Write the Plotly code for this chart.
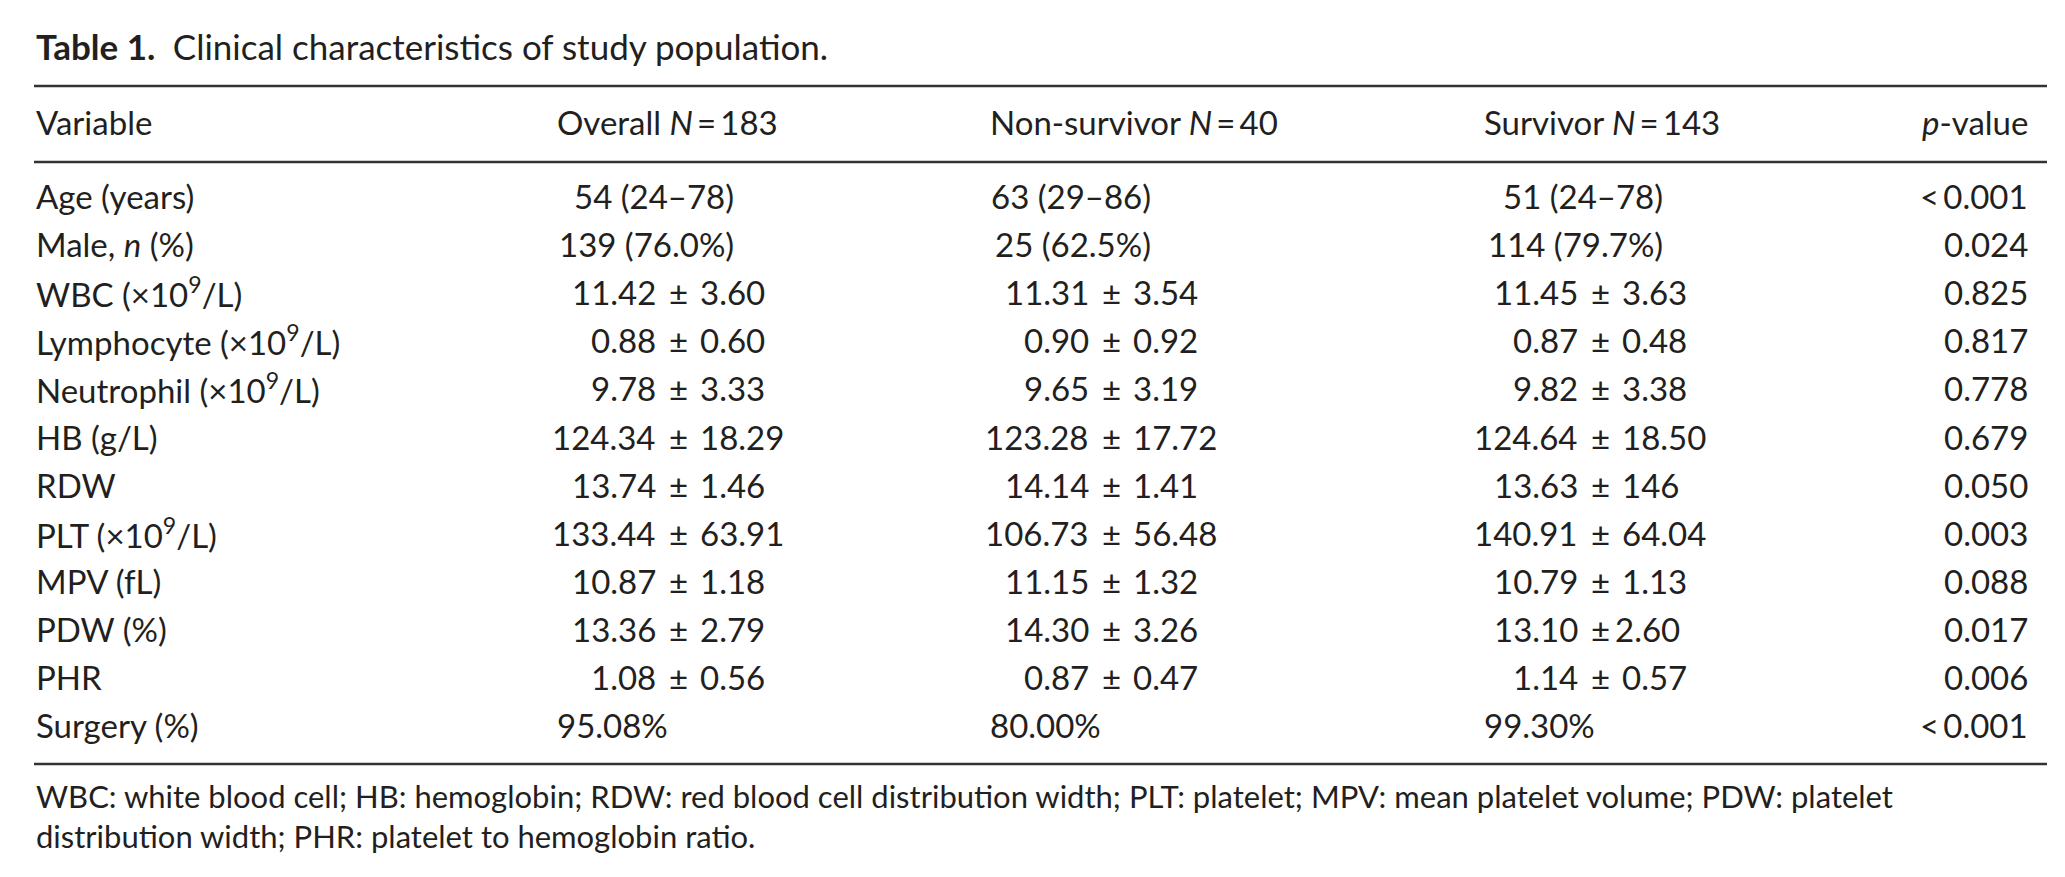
import plotly.graph_objects as go

# Table content
title_bold = "Table 1."
title_text = "Clinical characteristics of study population."

headers = ["Variable", "Overall <i>N</i>\u2009=\u2009183", "Non-survivor <i>N</i>\u2009=\u200940",
           "Survivor <i>N</i>\u2009=\u2009143", "<i>p</i>-value"]

variables = ["Age (years)", "Male, <i>n</i> (%)", "WBC (\u00d710<sup>9</sup>/L)",
             "Lymphocyte (\u00d710<sup>9</sup>/L)", "Neutrophil (\u00d710<sup>9</sup>/L)", "HB (g/L)",
             "RDW", "PLT (\u00d710<sup>9</sup>/L)", "MPV (fL)", "PDW (%)", "PHR", "Surgery (%)"]

overall = ["54 (24–78)", "139 (76.0%)", "11.42 ± 3.60", "0.88 ± 0.60", "9.78 ± 3.33",
           "124.34 ± 18.29", "13.74 ± 1.46", "133.44 ± 63.91", "10.87 ± 1.18", "13.36 ± 2.79",
           "1.08 ± 0.56", "95.08%"]
non_survivor = ["63 (29–86)", "25 (62.5%)", "11.31 ± 3.54", "0.90 ± 0.92", "9.65 ± 3.19",
                "123.28 ± 17.72", "14.14 ± 1.41", "106.73 ± 56.48", "11.15 ± 1.32", "14.30 ± 3.26",
                "0.87 ± 0.47", "80.00%"]
survivor = ["51 (24–78)", "114 (79.7%)", "11.45 ± 3.63", "0.87 ± 0.48", "9.82 ± 3.38",
            "124.64 ± 18.50", "13.63 ± 146", "140.91 ± 64.04", "10.79 ± 1.13", "13.10 ±2.60",
            "1.14 ± 0.57", "99.30%"]
p_values = ["<0.001", "0.024", "0.825", "0.817", "0.778", "0.679", "0.050", "0.003", "0.088",
            "0.017", "0.006", "<0.001"]

footnote = ["WBC: white blood cell; HB: hemoglobin; RDW: red blood cell distribution width; "
            "PLT: platelet; MPV: mean platelet volume; PDW: platelet",
            "distribution width; PHR: platelet to hemoglobin ratio."]

# layout (pixel-like coords)
W, H = 2065, 877
FONT = "Lato"
INK = "#231f20"
SIZE = 33
LEFT, RIGHT = 26, 2039
ROW0, ROW_STEP = 188, 48.1
HEADER_Y = 114
# per column: left edge, plus/minus centre, right edge
cols = [
    (overall, 547, 670, 728),
    (non_survivor, 980, 1103, 1145),
    (survivor, 1474, 1592, 1657),
]
P_RIGHT = 2022

fig = go.Figure()
ann = []


def txt(x, y, s, anchor="left", size=SIZE):
    ann.append(dict(x=x, y=y, xref="x", yref="y", text=s, showarrow=False,
                    xanchor=anchor, yanchor="middle",
                    font=dict(family=FONT, size=size, color=INK)))


# title
txt(LEFT, 38, f"<b>{title_bold}</b>\u2002{title_text}", size=35)

# header
txt(LEFT, HEADER_Y, headers[0])
for (vals, left, pm, right), h in zip(cols, headers[1:4]):
    txt(left, HEADER_Y, h)
txt(P_RIGHT, HEADER_Y, headers[4], "right")

# body
for i, var in enumerate(variables):
    y = ROW0 + i * ROW_STEP
    txt(LEFT, y, var)
    for vals, left, pm, right in cols:
        s = vals[i]
        if "±" in s:
            a, b = s.split("±")
            txt(pm - 20, y, a.strip(), "right")
            txt(pm, y, "±", "center")
            txt(pm + (20 if b.startswith(" ") else 13), y, b.strip(), "left")
        elif "(" in s:
            txt(right, y, s, "right")
        else:
            txt(left, y, s, "left")
    txt(P_RIGHT, y, p_values[i].replace("<", "&lt;\u2009"), "right")

# footnote
for j, line in enumerate(footnote):
    txt(LEFT, 788 + j * 40, line, size=31)

# rules
for yy in [78, 154, 756]:
    fig.add_shape(type="line", x0=LEFT, x1=RIGHT, y0=yy, y1=yy, xref="x", yref="y",
                  line=dict(color="#333333", width=2.5))

fig.update_layout(
    width=W, height=H, autosize=False,
    margin=dict(l=0, r=0, t=0, b=0),
    paper_bgcolor="white", plot_bgcolor="white",
    xaxis=dict(range=[0, W], visible=False, fixedrange=True),
    yaxis=dict(range=[H, 0], visible=False, fixedrange=True),
    annotations=ann,
    showlegend=False,
)

fig.write_html("out.html", config={"displayModeBar": False})
